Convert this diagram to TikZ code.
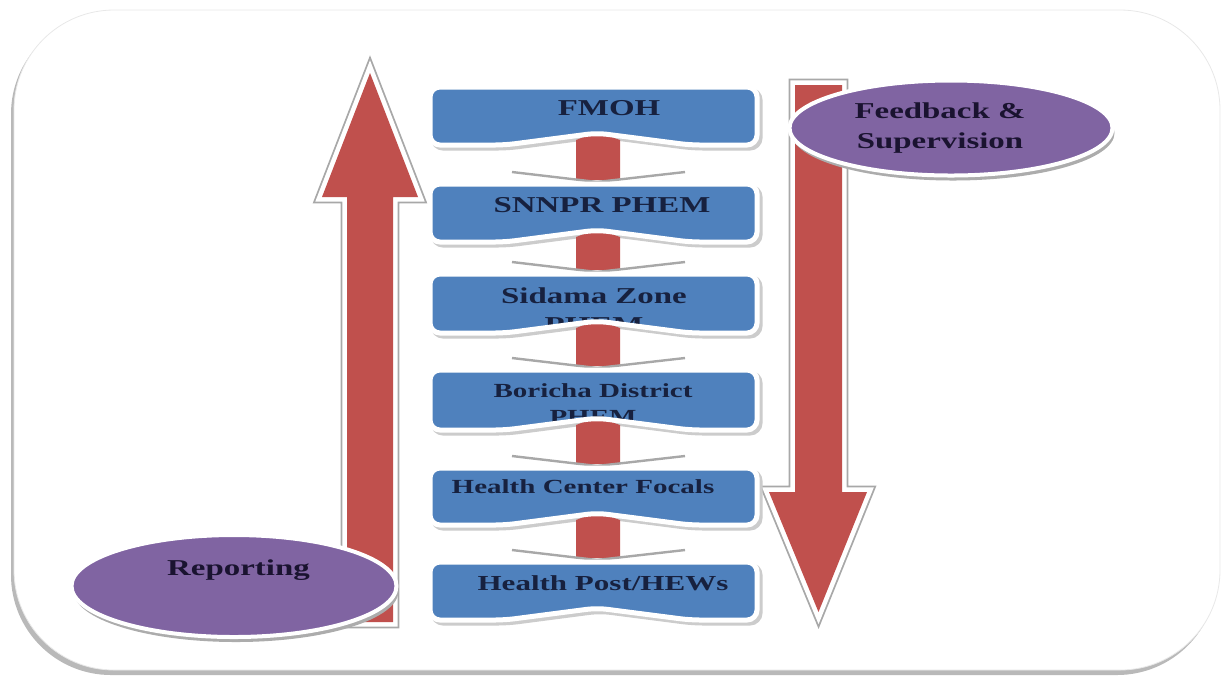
\documentclass[tikz,border=0pt]{standalone}
\usepackage{fontspec}
\newfontfamily\lbl{Liberation Serif}[FakeStretch=1.45]
\usetikzlibrary{shapes.geometric,shadows}
\definecolor{redA}{HTML}{C0504D}
\definecolor{blueA}{HTML}{4F81BD}
\definecolor{purA}{HTML}{8064A2}
\definecolor{txtA}{HTML}{17213F}
\definecolor{txtB}{HTML}{1A1330}
\definecolor{edgeg}{HTML}{A8A8A8}
\newcommand{\bxpath}[2]{(430,#1) -- (757,#1) -- (757,#2) -- (690,#2) -- (597,#2-12) -- (505,#2) -- (430,#2) -- cycle}
\newcommand{\redlink}[2]{(576,#1-5) -- (597,#1-13) -- (620,#1-5) -- (620,#2-4) -- (576,#2-4) -- cycle}
\newcommand{\chevmark}[1]{(512,#1-12) -- (597,#1-2) -- (685,#1-12)}
\begin{document}
\begin{tikzpicture}[x=0.5pt,y=-0.5pt,
  arrowbody/.style={fill=redA, line join=miter,
     preaction={draw=edgeg, line width=6.4pt, line join=miter},
     preaction={draw=white, line width=4.6pt, line join=miter}},
  boxshadow/.style={fill=gray!40, draw=gray!40, line width=2.5pt, rounded corners=5pt, shift={(3,3)}},
  boxfill/.style={fill=blueA, rounded corners=5pt},
  boxedge/.style={draw=white, line width=2.5pt, rounded corners=5pt},
  linkbody/.style={fill=redA},
  vmark/.style={draw=edgeg, line width=1.2pt, line join=round},
  boxtxt/.style={text=txtA, inner sep=0pt, align=center},
  ovalbody/.style={ellipse, fill=purA, draw=white, line width=2pt, inner sep=0pt,
     drop shadow={shadow xshift=1pt, shadow yshift=-2.5pt, fill=gray!65, opacity=1}},
  ovaltxt/.style={text=txtB, inner sep=0pt, align=center,
     font=\lbl\bfseries\fontsize{11.35}{15}\selectfont}]
\useasboundingbox (0,0) rectangle (1225,677);
% frame
\fill[gray!55, rounded corners=50pt] (11,14) rectangle (1217,675);
\filldraw[fill=white, draw=gray!18, rounded corners=50pt] (14,10) rectangle (1220,670);
% big arrows
\path[arrowbody] (347,622) -- (347,197) -- (322,197) -- (370,73) -- (418,197) -- (393,197) -- (393,622) -- cycle;
\path[arrowbody] (795,85) -- (842,85) -- (842,492) -- (867,492) -- (818.5,612) -- (769,492) -- (795,492) -- cycle;
% box shadows
\path[boxshadow] \bxpath{87}{145};
\path[boxshadow] \bxpath{184}{242};
\path[boxshadow] \bxpath{274}{333};
\path[boxshadow] \bxpath{370}{430};
\path[boxshadow] \bxpath{468}{525};
\path[boxshadow] \bxpath{562}{620};
% red links between boxes
\path[linkbody] \redlink{145}{184};
\path[linkbody] \redlink{242}{274};
\path[linkbody] \redlink{333}{370};
\path[linkbody] \redlink{430}{468};
\path[linkbody] \redlink{525}{562};
% chevron marks above boxes
\draw[vmark] \chevmark{184};
\draw[vmark] \chevmark{274};
\draw[vmark] \chevmark{370};
\draw[vmark] \chevmark{468};
\draw[vmark] \chevmark{562};
% boxes
\path[boxfill] \bxpath{87}{145};
\path[boxfill] \bxpath{184}{242};
\path[boxfill] \bxpath{274}{333};
\path[boxfill] \bxpath{370}{430};
\path[boxfill] \bxpath{468}{525};
\path[boxfill] \bxpath{562}{620};
\begin{scope}
\clip[rounded corners=5pt] \bxpath{87}{145};
\node[boxtxt, anchor=base, font=\lbl\bfseries\fontsize{11.35}{14}\selectfont] (fmoh) at (609,115) {FMOH};
\end{scope}
\begin{scope}
\clip[rounded corners=5pt] \bxpath{184}{242};
\node[boxtxt, anchor=base, font=\lbl\bfseries\fontsize{11.35}{14}\selectfont] (snnpr) at (602,212) {SNNPR PHEM};
\end{scope}
\begin{scope}
\clip[rounded corners=5pt] \bxpath{274}{333};
\node[boxtxt, anchor=north, font=\lbl\bfseries\fontsize{11.35}{14.5}\selectfont] (sidama) at (594,287.5) {Sidama Zone\\PHEM};
\end{scope}
\begin{scope}
\clip[rounded corners=5pt] \bxpath{370}{430};
\node[boxtxt, anchor=north, font=\lbl\bfseries\fontsize{10}{13}\selectfont] (boricha) at (593,383.5) {Boricha District\\PHEM};
\end{scope}
\begin{scope}
\clip[rounded corners=5pt] \bxpath{468}{525};
\node[boxtxt, anchor=base, font=\lbl\bfseries\fontsize{10}{12}\selectfont] (hcf) at (583,493) {Health Center Focals};
\end{scope}
\begin{scope}
\clip[rounded corners=5pt] \bxpath{562}{620};
\node[boxtxt, anchor=base, font=\lbl\bfseries\fontsize{10.7}{13}\selectfont] (hp) at (603,590) {Health Post/HEWs};
\end{scope}
\path[boxedge] \bxpath{87}{145};
\path[boxedge] \bxpath{184}{242};
\path[boxedge] \bxpath{274}{333};
\path[boxedge] \bxpath{370}{430};
\path[boxedge] \bxpath{468}{525};
\path[boxedge] \bxpath{562}{620};
% ovals
\node[ovalbody, minimum width=161.5pt, minimum height=47.5pt] (fbE) at (951,128) {};
\node[ovaltxt, anchor=north] (fbT) at (940,102.5) {Feedback \&\\Supervision};
\node[ovalbody, minimum width=162.5pt, minimum height=51pt] (repE) at (234,586) {};
\node[ovaltxt, anchor=base] (repT) at (238.5,575) {Reporting};
\end{tikzpicture}
\end{document}
